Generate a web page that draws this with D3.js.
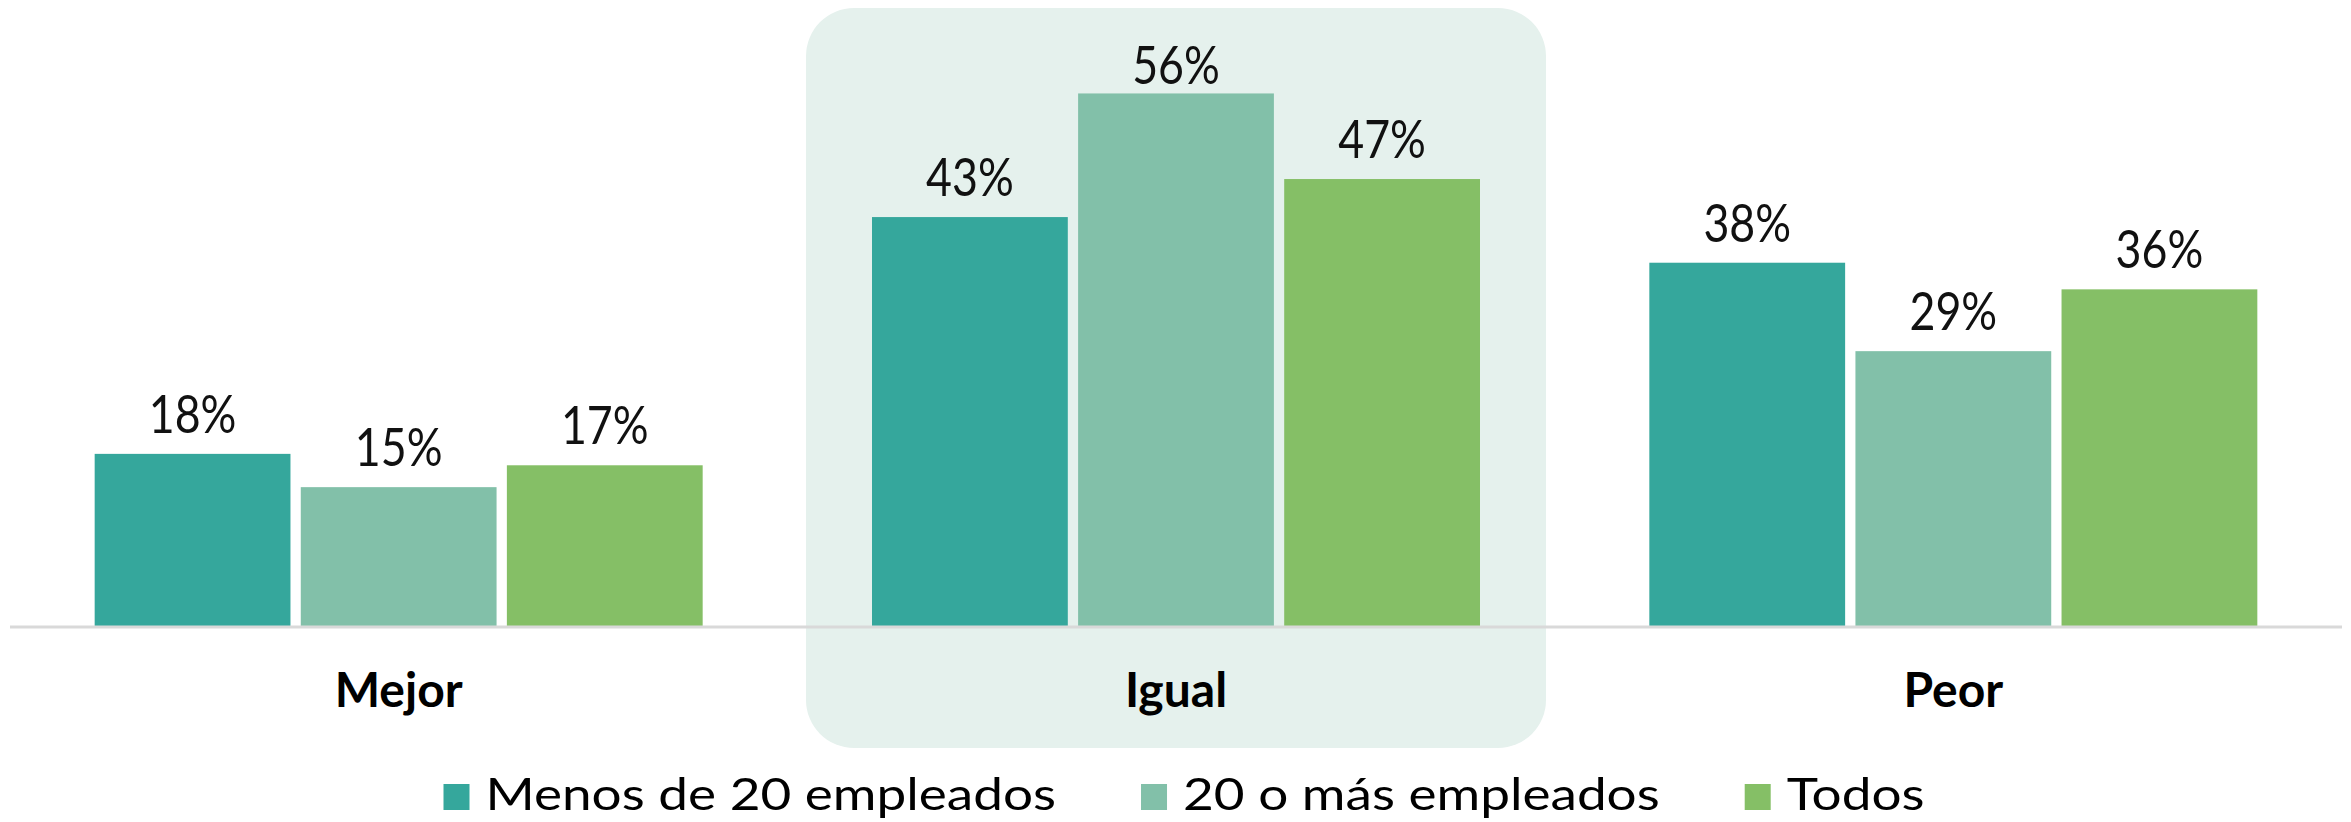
<!DOCTYPE html>
<html>
<head>
<meta charset="utf-8">
<script src="https://cdn.jsdelivr.net/npm/d3@7"></script>
<style>
  body { margin: 0; background: #fff; }
  svg { display: block; }
</style>
</head>
<body>
<script>
const categories = ["Mejor", "Igual", "Peor"];
const series = ["Menos de 20 empleados", "20 o más empleados", "Todos"];
// bar heights in %
const menos20 = [18.1, 43.0, 38.2];
const mas20 = [14.6, 56.0, 28.9];
const todos = [16.9, 47.0, 35.4];
// printed labels
const menos20Labels = ["18%", "43%", "38%"];
const mas20Labels = ["15%", "56%", "29%"];
const todosLabels = ["17%", "47%", "36%"];
const highlighted = "Igual";

const colors = ["#35a79c", "#82c0a9", "#85bf66"];

const width = 2351, height = 822;
const baseY = 626;
const groupW = 608;
const font = "Lato, 'Open Sans', sans-serif";

const seriesValues = [menos20, mas20, todos];
const seriesLabels = [menos20Labels, mas20Labels, todosLabels];

const data = categories.map((c, i) => ({
  category: c,
  values: series.map((s, j) => ({ key: s, value: seriesValues[j][i], label: seriesLabels[j][i], idx: j }))
}));

const svg = d3.select("body").append("svg")
  .attr("width", width)
  .attr("height", height);

const x0 = d3.scaleBand()
  .domain(categories)
  .range([10, 2342]);

const x1 = d3.scaleBand()
  .domain(series)
  .range([0, groupW])
  .paddingInner(0.05);

const y = d3.scaleLinear()
  .domain([0, 100])
  .range([baseY, baseY - 951]);

// highlight box behind the middle group
svg.append("rect")
  .attr("x", x0(highlighted) + x0.bandwidth() / 2 - 370)
  .attr("y", 8)
  .attr("width", 740)
  .attr("height", 740)
  .attr("rx", 48)
  .attr("fill", "#e5f1ed");

const groups = svg.selectAll("g.group")
  .data(data)
  .join("g")
  .attr("class", "group")
  .attr("transform", d => `translate(${x0(d.category) + (x0.bandwidth() - groupW) / 2},0)`);

groups.selectAll("rect")
  .data(d => d.values)
  .join("rect")
  .attr("x", d => x1(d.key))
  .attr("width", x1.bandwidth())
  .attr("y", d => y(d.value))
  .attr("height", d => baseY - y(d.value))
  .attr("fill", d => colors[d.idx]);

// labels sit above the bar, but never above the top of the plot
groups.selectAll("text.val")
  .data(d => d.values)
  .join("text")
  .attr("class", "val")
  .attr("transform", d => `translate(${x1(d.key) + x1.bandwidth() / 2},${Math.max(y(d.value) - 21, 84)}) scale(0.86,1)`)
  .attr("text-anchor", "middle")
  .attr("font-family", font)
  .attr("font-size", 52)
  .attr("fill", "#111")
  .text(d => d.label);

// baseline
svg.append("line")
  .attr("x1", 10)
  .attr("x2", 2342)
  .attr("y1", baseY + 1)
  .attr("y2", baseY + 1)
  .attr("stroke", "#d9d9d9")
  .attr("stroke-width", 3);

// category labels
svg.selectAll("text.cat")
  .data(categories)
  .join("text")
  .attr("class", "cat")
  .attr("x", d => x0(d) + x0.bandwidth() / 2)
  .attr("y", 707)
  .attr("text-anchor", "middle")
  .attr("font-family", font)
  .attr("font-weight", "bold")
  .attr("font-size", 48)
  .attr("fill", "#000")
  .text(d => d);

// legend
const legendScale = 1.18;
const items = svg.append("g").selectAll("g")
  .data(series)
  .join("g");

items.append("rect")
  .attr("width", 26)
  .attr("height", 26)
  .attr("y", 784)
  .attr("fill", (d, i) => colors[i]);

items.append("text")
  .attr("transform", `translate(42,810) scale(${legendScale},1)`)
  .attr("font-family", font)
  .attr("font-size", 45)
  .attr("fill", "#000")
  .text(d => d);

const widths = items.nodes().map(n => 42 + n.querySelector("text").getComputedTextLength() * legendScale);
const gap = 85;
const total = d3.sum(widths) + gap * (widths.length - 1);
let offset = 1184 - total / 2;
items.attr("transform", (d, i) => {
  const t = `translate(${offset},0)`;
  offset += widths[i] + gap;
  return t;
});
</script>
</body>
</html>
